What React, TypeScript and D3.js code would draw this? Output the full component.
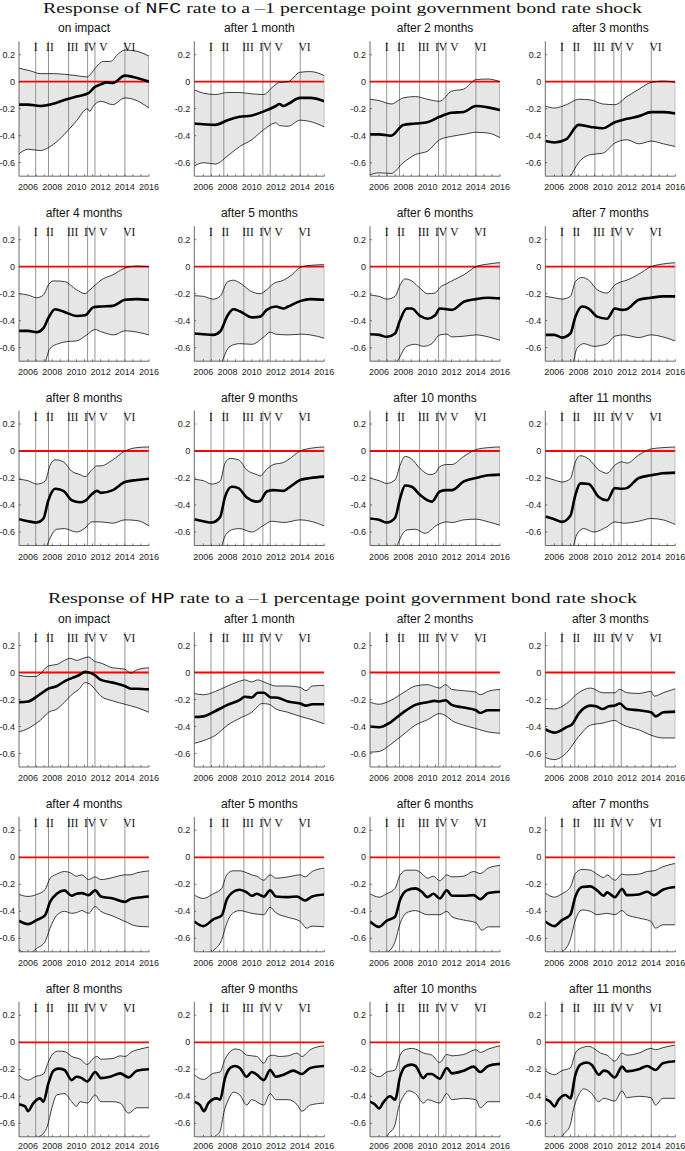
import React from "react";
import * as d3 from "d3";

type Pt = [number, number];

const SECTION_CODES = ["NFC", "HP"];
const PANEL_TITLES = [
  "on impact", "after 1 month", "after 2 months", "after 3 months",
  "after 4 months", "after 5 months", "after 6 months", "after 7 months",
  "after 8 months", "after 9 months", "after 10 months", "after 11 months",
];
const EVENT_YEARS = [2006.63, 2007.69, 2009.35, 2010.92, 2011.53, 2014.01];
const EVENT_LABELS = ["I", "II", "III", "IV", "V", "VI"];
const EVENT_LABEL_YEARS = [2006.63, 2007.81, 2009.69, 2011.12, 2012.22, 2014.37];
const Y_TICKS = [-0.6, -0.4, -0.2, 0, 0.2];
const X_LABELS = [2006, 2008, 2010, 2012, 2014, 2016];

// NFC rate responses: upper band, median, lower band
const nfcHi: Pt[][] = [
  [[2005.25,0.1],[2006.2,0.08],[2007,0.06],[2008,0.06],[2009,0.055],[2010,0.045],[2010.9,0.035],[2011.1,0.05],[2011.7,0.115],[2012.2,0.15],[2012.8,0.15],[2013.5,0.21],[2014.05,0.235],[2015,0.225],[2016,0.19]],
  [[2005.25,-0.06],[2006,-0.085],[2007,-0.095],[2008,-0.08],[2009,-0.08],[2010,-0.09],[2011,-0.095],[2011.66,-0.045],[2012.3,-0.005],[2013,0],[2014,0.07],[2014.84,0.075],[2016,0.045]],
  [[2005.25,-0.13],[2006,-0.14],[2007,-0.165],[2008,-0.12],[2009,-0.11],[2010,-0.13],[2011,-0.145],[2012,-0.07],[2013,-0.055],[2014,0.015],[2015,0.02],[2016,0]],
  [[2005.25,-0.18],[2006,-0.195],[2007,-0.17],[2008,-0.13],[2009,-0.135],[2010,-0.165],[2011,-0.17],[2012,-0.11],[2013,-0.055],[2014,-0.005],[2015,0.005],[2016,-0.005]],
  [[2005.25,-0.2],[2006,-0.21],[2006.71,-0.23],[2007.27,-0.21],[2007.68,-0.135],[2008.1,-0.105],[2009.01,-0.11],[2010,-0.17],[2010.72,-0.2],[2011,-0.18],[2011.69,-0.125],[2012.02,-0.1],[2013.01,-0.06],[2014.01,-0.01],[2015,0.005],[2016,0]],
  [[2005.25,-0.215],[2006,-0.22],[2006.82,-0.24],[2007.38,-0.22],[2008.01,-0.11],[2008.48,-0.1],[2009.01,-0.12],[2010,-0.185],[2010.69,-0.2],[2011.24,-0.17],[2011.8,-0.125],[2012.63,-0.1],[2013.32,-0.06],[2014.01,-0.005],[2014.84,0.01],[2016,0.015]],
  [[2005.25,-0.21],[2006,-0.22],[2006.63,-0.24],[2007.32,-0.22],[2007.74,-0.135],[2008.15,-0.09],[2008.7,-0.105],[2009.39,-0.16],[2010,-0.2],[2010.64,-0.195],[2011.02,-0.155],[2011.6,-0.125],[2012.02,-0.105],[2013.01,-0.06],[2014.01,0],[2015.03,0.02],[2016,0.03]],
  [[2005.25,-0.22],[2006,-0.23],[2006.63,-0.24],[2007.32,-0.22],[2007.74,-0.11],[2008.29,-0.08],[2008.84,-0.1],[2009.53,-0.17],[2010.36,-0.195],[2011,-0.135],[2011.6,-0.11],[2011.99,-0.1],[2012.98,-0.055],[2013.98,0],[2014.97,0.02],[2016,0.03]],
  [[2005.25,-0.21],[2006,-0.22],[2006.71,-0.245],[2007.4,-0.225],[2007.82,-0.105],[2008.23,-0.065],[2008.92,-0.08],[2009.61,-0.15],[2010.3,-0.175],[2010.72,-0.19],[2011.27,-0.14],[2011.69,-0.11],[2012.02,-0.11],[2013.01,-0.065],[2014.01,0],[2015,0.025],[2016,0.03]],
  [[2005.25,-0.21],[2006,-0.22],[2006.69,-0.245],[2007.38,-0.225],[2007.79,-0.09],[2008.21,-0.055],[2008.9,-0.065],[2009.59,-0.14],[2010.42,-0.175],[2010.69,-0.185],[2011.24,-0.135],[2011.8,-0.1],[2012.63,-0.085],[2013.01,-0.065],[2014.01,0],[2014.84,0.02],[2016,0.03]],
  [[2005.25,-0.2],[2006,-0.22],[2006.63,-0.24],[2007.32,-0.215],[2007.74,-0.105],[2008.15,-0.04],[2008.7,-0.06],[2009.39,-0.13],[2010.22,-0.175],[2010.64,-0.165],[2011.02,-0.115],[2011.6,-0.1],[2012.02,-0.1],[2013.01,-0.04],[2014.01,0.01],[2015.03,0.025],[2016,0.03]],
  [[2005.25,-0.195],[2006,-0.215],[2006.63,-0.23],[2007.32,-0.205],[2007.74,-0.08],[2008.15,-0.035],[2008.84,-0.06],[2009.67,-0.14],[2010.36,-0.165],[2011,-0.105],[2011.6,-0.08],[2011.99,-0.09],[2012.98,-0.03],[2013.98,0.015],[2014.97,0.025],[2016,0.03]],
];

const nfcMid: Pt[][] = [
  [[2005.25,-0.17],[2006,-0.17],[2007,-0.18],[2008,-0.165],[2009,-0.135],[2010,-0.11],[2011,-0.085],[2011.5,-0.04],[2012,-0.02],[2012.5,-0.005],[2013,-0.01],[2014,0.045],[2014.7,0.035],[2016,0]],
  [[2005.25,-0.31],[2006,-0.315],[2007,-0.32],[2008,-0.285],[2009,-0.26],[2010,-0.25],[2011,-0.22],[2012,-0.18],[2012.3,-0.165],[2012.6,-0.18],[2013,-0.165],[2014,-0.12],[2014.84,-0.12],[2016,-0.145]],
  [[2005.25,-0.39],[2006,-0.39],[2007,-0.4],[2008,-0.32],[2009,-0.31],[2010,-0.3],[2011,-0.26],[2012,-0.23],[2013,-0.225],[2014,-0.18],[2015,-0.19],[2016,-0.21]],
  [[2005.25,-0.44],[2006,-0.45],[2007,-0.425],[2008,-0.32],[2009,-0.335],[2010,-0.345],[2011,-0.3],[2012,-0.275],[2013,-0.255],[2014,-0.225],[2015,-0.225],[2016,-0.235]],
  [[2005.25,-0.475],[2006,-0.475],[2006.71,-0.485],[2007.27,-0.455],[2007.68,-0.38],[2008.23,-0.315],[2009.01,-0.335],[2010,-0.365],[2010.72,-0.36],[2011.41,-0.3],[2012.02,-0.295],[2013.01,-0.29],[2014.01,-0.245],[2015,-0.24],[2016,-0.245]],
  [[2005.25,-0.495],[2006,-0.5],[2006.82,-0.505],[2007.38,-0.48],[2008.01,-0.36],[2008.48,-0.315],[2009.01,-0.33],[2010,-0.375],[2010.69,-0.37],[2011.24,-0.32],[2011.99,-0.295],[2012.63,-0.31],[2013.01,-0.295],[2014.01,-0.255],[2014.84,-0.24],[2016,-0.245]],
  [[2005.25,-0.5],[2006,-0.505],[2006.63,-0.52],[2007.32,-0.495],[2007.74,-0.395],[2008.29,-0.31],[2008.7,-0.31],[2009.39,-0.365],[2010,-0.385],[2010.64,-0.36],[2011.02,-0.31],[2011.6,-0.315],[2012.02,-0.32],[2013.01,-0.26],[2014.01,-0.24],[2015.03,-0.23],[2016,-0.235]],
  [[2005.25,-0.505],[2006,-0.505],[2006.63,-0.525],[2007.32,-0.495],[2007.74,-0.37],[2008.29,-0.295],[2008.84,-0.31],[2009.53,-0.37],[2010.36,-0.385],[2011,-0.31],[2011.6,-0.32],[2011.99,-0.315],[2012.98,-0.245],[2013.98,-0.23],[2014.97,-0.22],[2016,-0.22]],
  [[2005.25,-0.505],[2006,-0.52],[2006.71,-0.53],[2007.27,-0.5],[2007.68,-0.365],[2008.23,-0.28],[2008.92,-0.295],[2009.61,-0.365],[2010.3,-0.38],[2010.72,-0.37],[2011.27,-0.32],[2011.69,-0.295],[2012.02,-0.31],[2013.01,-0.29],[2014.01,-0.23],[2015,-0.215],[2016,-0.205]],
  [[2005.25,-0.505],[2006,-0.52],[2006.69,-0.53],[2007.38,-0.49],[2007.79,-0.34],[2008.34,-0.265],[2008.9,-0.275],[2009.59,-0.345],[2010.42,-0.375],[2010.69,-0.37],[2011.24,-0.3],[2011.8,-0.29],[2012.63,-0.295],[2013.01,-0.275],[2014.01,-0.215],[2014.84,-0.2],[2016,-0.19]],
  [[2005.25,-0.5],[2006,-0.51],[2006.63,-0.53],[2007.32,-0.495],[2007.74,-0.35],[2008.15,-0.255],[2008.7,-0.265],[2009.39,-0.325],[2010.36,-0.375],[2011.02,-0.3],[2011.6,-0.29],[2012.02,-0.29],[2013.01,-0.225],[2014.01,-0.2],[2015.03,-0.18],[2016,-0.175]],
  [[2005.25,-0.485],[2006,-0.505],[2006.63,-0.525],[2007.32,-0.48],[2007.74,-0.325],[2008.15,-0.24],[2008.84,-0.245],[2009.67,-0.34],[2010.36,-0.365],[2011,-0.275],[2011.6,-0.28],[2011.99,-0.275],[2012.98,-0.2],[2013.98,-0.18],[2014.97,-0.165],[2016,-0.16]],
];

const nfcLo: Pt[][] = [
  [[2005.25,-0.535],[2006,-0.5],[2007,-0.51],[2008,-0.47],[2009,-0.39],[2010,-0.29],[2010.9,-0.2],[2011.1,-0.22],[2011.4,-0.18],[2012,-0.145],[2013,-0.17],[2014,-0.12],[2014.7,-0.13],[2016,-0.195]],
  [[2005.25,-0.625],[2006,-0.6],[2007,-0.61],[2008,-0.55],[2009,-0.48],[2010,-0.43],[2011,-0.355],[2012,-0.305],[2012.3,-0.325],[2013,-0.33],[2014,-0.285],[2014.84,-0.295],[2016,-0.335]],
  [[2005.25,-0.69],[2006,-0.675],[2007,-0.68],[2008,-0.6],[2009,-0.54],[2010,-0.515],[2011,-0.43],[2012,-0.405],[2013,-0.39],[2014,-0.375],[2015,-0.38],[2016,-0.415]],
  [[2005.25,-0.78],[2006,-0.8],[2007,-0.76],[2007.35,-0.7],[2008,-0.6],[2009,-0.54],[2010,-0.53],[2011,-0.455],[2012,-0.43],[2013,-0.46],[2014,-0.44],[2015,-0.46],[2016,-0.48]],
  [[2005.25,-0.95],[2006.8,-0.95],[2007.4,-0.72],[2007.82,-0.605],[2008.51,-0.57],[2009.2,-0.555],[2010,-0.55],[2010.85,-0.505],[2011.55,-0.465],[2012,-0.48],[2013.1,-0.505],[2014,-0.475],[2016,-0.505]],
  [[2005.25,-0.95],[2006.9,-0.95],[2007.52,-0.715],[2008.21,-0.59],[2009.01,-0.57],[2010,-0.575],[2011,-0.52],[2011.52,-0.485],[2011.99,-0.5],[2013.01,-0.505],[2014.01,-0.5],[2014.84,-0.505],[2016,-0.53]],
  [[2005.25,-0.95],[2007,-0.95],[2007.45,-0.72],[2007.74,-0.665],[2008.29,-0.59],[2009.01,-0.575],[2009.67,-0.59],[2010.36,-0.57],[2011.02,-0.505],[2011.6,-0.5],[2012.02,-0.52],[2013.01,-0.515],[2014.01,-0.505],[2015.03,-0.52],[2016,-0.545]],
  [[2005.25,-0.95],[2007.1,-0.95],[2007.55,-0.72],[2007.87,-0.605],[2008.43,-0.57],[2009.26,-0.59],[2010.36,-0.57],[2011,-0.515],[2011.74,-0.505],[2012.98,-0.525],[2013.98,-0.505],[2014.97,-0.52],[2016,-0.55]],
  [[2005.25,-0.95],[2007,-0.95],[2007.5,-0.72],[2007.82,-0.645],[2008.37,-0.58],[2009.01,-0.575],[2010,-0.6],[2010.72,-0.57],[2011.27,-0.525],[2012.02,-0.525],[2013.01,-0.535],[2014.01,-0.51],[2015,-0.515],[2016,-0.555]],
  [[2005.25,-0.95],[2007,-0.95],[2007.48,-0.72],[2007.86,-0.62],[2008.48,-0.58],[2009.01,-0.575],[2010,-0.6],[2011,-0.55],[2011.66,-0.52],[2012.63,-0.53],[2014.01,-0.51],[2014.84,-0.52],[2016,-0.555]],
  [[2005.25,-0.95],[2007,-0.95],[2007.45,-0.72],[2007.74,-0.65],[2008.29,-0.585],[2009.01,-0.58],[2009.81,-0.61],[2010.77,-0.55],[2011.6,-0.525],[2012.02,-0.53],[2013.01,-0.51],[2014.01,-0.505],[2015.03,-0.525],[2016,-0.55]],
  [[2005.25,-0.95],[2007.1,-0.95],[2007.55,-0.72],[2007.87,-0.615],[2008.43,-0.575],[2009.26,-0.6],[2010.36,-0.56],[2011,-0.525],[2011.74,-0.535],[2012.98,-0.52],[2013.98,-0.5],[2014.97,-0.51],[2016,-0.545]],
];

// HP rate responses
const hpHi: Pt[][] = [
  [[2005.25,-0.02],[2006,-0.03],[2006.61,-0.03],[2007,-0.01],[2007.69,0.05],[2008.4,0.06],[2009.01,0.09],[2009.48,0.105],[2010.02,0.09],[2010.55,0.105],[2011.02,0.115],[2011.45,0.085],[2012.02,0.07],[2012.99,0.035],[2013.99,0.025],[2014.5,-0.005],[2015,0.02],[2016,0.035]],
  [[2005.25,-0.155],[2006,-0.165],[2007,-0.14],[2008,-0.1],[2008.98,-0.065],[2009.42,-0.055],[2010,-0.07],[2010.5,-0.055],[2011,-0.07],[2012,-0.1],[2013,-0.1],[2014,-0.11],[2014.49,-0.135],[2015,-0.1],[2016,-0.095]],
  [[2005.25,-0.22],[2006,-0.235],[2007,-0.205],[2008,-0.15],[2009,-0.1],[2010,-0.09],[2011,-0.115],[2011.5,-0.09],[2012,-0.125],[2013,-0.135],[2014,-0.145],[2014.35,-0.165],[2015,-0.14],[2016,-0.125]],
  [[2005.25,-0.265],[2006,-0.27],[2007,-0.23],[2008,-0.15],[2009,-0.115],[2010,-0.15],[2011,-0.15],[2011.4,-0.125],[2012,-0.15],[2013,-0.155],[2014,-0.14],[2014.25,-0.175],[2015,-0.15],[2016,-0.12]],
  [[2005.25,-0.275],[2006,-0.29],[2006.71,-0.275],[2007.4,-0.24],[2007.82,-0.155],[2008.37,-0.125],[2009.01,-0.105],[2009.61,-0.12],[2010,-0.14],[2010.44,-0.13],[2011,-0.165],[2011.55,-0.145],[2012.02,-0.165],[2013.01,-0.15],[2014.01,-0.13],[2014.45,-0.13],[2015,-0.115],[2016,-0.1]],
  [[2005.25,-0.28],[2006,-0.305],[2006.82,-0.27],[2007.52,-0.23],[2007.93,-0.13],[2008.48,-0.1],[2009.01,-0.1],[2009.59,-0.115],[2010,-0.13],[2010.42,-0.14],[2011,-0.17],[2011.52,-0.13],[2011.99,-0.155],[2013.01,-0.145],[2014.01,-0.13],[2014.42,-0.145],[2015,-0.105],[2016,-0.08]],
  [[2005.25,-0.27],[2006,-0.295],[2006.63,-0.27],[2007.32,-0.23],[2007.74,-0.13],[2008.29,-0.095],[2009.01,-0.095],[2009.53,-0.12],[2010,-0.155],[2010.5,-0.14],[2011.02,-0.175],[2011.6,-0.13],[2012.02,-0.145],[2013.01,-0.14],[2013.8,-0.105],[2014.37,-0.12],[2015.03,-0.08],[2016,-0.06]],
  [[2005.25,-0.265],[2006,-0.295],[2006.63,-0.27],[2007.32,-0.22],[2007.74,-0.12],[2008.29,-0.09],[2008.98,-0.095],[2009.53,-0.125],[2010.08,-0.15],[2010.36,-0.13],[2011,-0.17],[2011.6,-0.125],[2011.99,-0.13],[2012.98,-0.125],[2013.68,-0.105],[2014.23,-0.1],[2014.97,-0.07],[2016,-0.045]],
  [[2005.25,-0.245],[2006,-0.28],[2006.58,-0.255],[2007.27,-0.235],[2007.68,-0.145],[2008.1,-0.08],[2008.51,-0.065],[2009.06,-0.07],[2009.61,-0.105],[2010.3,-0.125],[2010.91,-0.165],[2011.27,-0.13],[2011.69,-0.105],[2012.02,-0.125],[2013.01,-0.12],[2013.62,-0.1],[2014.01,-0.105],[2014.59,-0.07],[2015.28,-0.05],[2016,-0.035]],
  [[2005.25,-0.24],[2006,-0.275],[2006.82,-0.23],[2007.38,-0.22],[2007.79,-0.125],[2008.21,-0.07],[2008.62,-0.05],[2009.01,-0.055],[2009.59,-0.095],[2010.42,-0.105],[2011,-0.155],[2011.38,-0.105],[2011.8,-0.095],[2012.21,-0.105],[2013.01,-0.1],[2013.73,-0.08],[2014.15,-0.105],[2014.84,-0.055],[2016,-0.025]],
  [[2005.25,-0.22],[2006,-0.255],[2006.63,-0.22],[2007.32,-0.205],[2007.74,-0.095],[2008.15,-0.055],[2008.7,-0.045],[2009.01,-0.05],[2009.67,-0.08],[2010.36,-0.095],[2011.02,-0.15],[2011.6,-0.09],[2012.02,-0.1],[2013.01,-0.09],[2014.01,-0.055],[2014.37,-0.075],[2015.03,-0.05],[2016,-0.025]],
  [[2005.25,-0.21],[2006,-0.24],[2006.63,-0.21],[2007.32,-0.19],[2007.74,-0.08],[2008.15,-0.045],[2008.84,-0.03],[2009.26,-0.045],[2009.81,-0.08],[2010.36,-0.095],[2011,-0.14],[2011.6,-0.08],[2011.99,-0.095],[2012.98,-0.08],[2013.98,-0.045],[2014.37,-0.055],[2014.97,-0.04],[2016,-0.02]],
];

const hpMid: Pt[][] = [
  [[2005.25,-0.22],[2006,-0.215],[2007,-0.16],[2007.69,-0.12],[2008.4,-0.1],[2009.01,-0.065],[2009.66,-0.04],[2010.2,-0.02],[2010.73,0.005],[2011.02,0],[2011.45,-0.015],[2012.02,-0.055],[2012.99,-0.075],[2013.99,-0.1],[2014.5,-0.12],[2015,-0.12],[2016,-0.125]],
  [[2005.25,-0.33],[2006,-0.325],[2007,-0.285],[2008,-0.24],[2008.98,-0.205],[2009.42,-0.18],[2010,-0.185],[2010.5,-0.15],[2011,-0.15],[2011.59,-0.185],[2012,-0.185],[2013,-0.215],[2014,-0.23],[2014.49,-0.245],[2015,-0.235],[2016,-0.235]],
  [[2005.25,-0.4],[2006,-0.405],[2007,-0.365],[2008,-0.295],[2009,-0.24],[2010,-0.22],[2010.6,-0.21],[2011,-0.215],[2011.5,-0.205],[2012,-0.24],[2013,-0.26],[2014,-0.28],[2014.35,-0.3],[2015,-0.28],[2016,-0.28]],
  [[2005.25,-0.42],[2006,-0.445],[2007,-0.405],[2007.5,-0.38],[2008,-0.305],[2009,-0.245],[2009.45,-0.25],[2010,-0.27],[2010.5,-0.25],[2011,-0.245],[2011.4,-0.23],[2012,-0.27],[2013,-0.28],[2014,-0.295],[2014.4,-0.325],[2015,-0.295],[2016,-0.29]],
  [[2005.25,-0.47],[2006,-0.495],[2006.71,-0.465],[2007.4,-0.43],[2007.82,-0.33],[2008.37,-0.27],[2009.01,-0.245],[2009.61,-0.285],[2010,-0.27],[2010.44,-0.265],[2011,-0.28],[2011.55,-0.245],[2012.02,-0.29],[2013.01,-0.305],[2014.01,-0.33],[2014.45,-0.31],[2015,-0.3],[2016,-0.29]],
  [[2005.25,-0.475],[2006,-0.51],[2006.82,-0.46],[2007.52,-0.43],[2007.93,-0.315],[2008.48,-0.255],[2009.01,-0.24],[2009.59,-0.26],[2010,-0.285],[2010.42,-0.27],[2011,-0.29],[2011.52,-0.245],[2011.99,-0.29],[2013.01,-0.295],[2013.73,-0.29],[2014.42,-0.32],[2015,-0.29],[2016,-0.275]],
  [[2005.25,-0.475],[2006,-0.515],[2006.63,-0.47],[2007.32,-0.44],[2007.74,-0.315],[2008.29,-0.245],[2009.01,-0.23],[2009.53,-0.255],[2010,-0.295],[2010.5,-0.27],[2011.02,-0.305],[2011.6,-0.245],[2012.02,-0.285],[2013.01,-0.285],[2013.8,-0.28],[2014.37,-0.31],[2015.03,-0.265],[2016,-0.255]],
  [[2005.25,-0.475],[2006,-0.51],[2006.63,-0.465],[2007.32,-0.425],[2007.74,-0.29],[2008.29,-0.22],[2008.98,-0.215],[2009.53,-0.245],[2010.08,-0.285],[2010.36,-0.26],[2011,-0.295],[2011.6,-0.235],[2011.99,-0.28],[2012.98,-0.275],[2013.68,-0.255],[2014.23,-0.28],[2014.97,-0.24],[2016,-0.22]],
  [[2005.25,-0.46],[2005.75,-0.475],[2006,-0.51],[2006.44,-0.45],[2006.99,-0.415],[2007.27,-0.44],[2007.68,-0.305],[2008.1,-0.21],[2008.51,-0.195],[2009.01,-0.205],[2009.61,-0.28],[2010,-0.255],[2010.44,-0.265],[2010.91,-0.29],[2011.55,-0.22],[2012.02,-0.265],[2012.79,-0.255],[2013.62,-0.23],[2014.31,-0.26],[2015,-0.21],[2016,-0.2]],
  [[2005.25,-0.44],[2005.72,-0.465],[2006.05,-0.51],[2006.41,-0.45],[2007.1,-0.415],[2007.38,-0.425],[2007.79,-0.265],[2008.21,-0.19],[2008.62,-0.175],[2009.01,-0.19],[2009.59,-0.255],[2010,-0.22],[2010.42,-0.24],[2011,-0.28],[2011.52,-0.205],[2011.99,-0.255],[2012.63,-0.24],[2013.45,-0.21],[2014.15,-0.235],[2014.84,-0.19],[2016,-0.175]],
  [[2005.25,-0.44],[2005.66,-0.46],[2006,-0.49],[2006.35,-0.445],[2006.91,-0.4],[2007.32,-0.425],[2007.74,-0.255],[2008.15,-0.18],[2008.7,-0.165],[2009.01,-0.175],[2009.67,-0.265],[2010,-0.235],[2010.36,-0.235],[2011.02,-0.27],[2011.6,-0.19],[2012.02,-0.23],[2013.01,-0.21],[2013.81,-0.18],[2014.37,-0.22],[2015.03,-0.175],[2016,-0.16]],
  [[2005.25,-0.42],[2005.66,-0.44],[2006,-0.475],[2006.35,-0.425],[2006.91,-0.39],[2007.32,-0.415],[2007.74,-0.24],[2008.15,-0.165],[2008.7,-0.15],[2009.12,-0.17],[2009.67,-0.24],[2010.08,-0.21],[2010.36,-0.215],[2011,-0.26],[2011.6,-0.18],[2011.99,-0.215],[2012.98,-0.2],[2013.68,-0.175],[2014.37,-0.205],[2014.97,-0.155],[2016,-0.14]],
];

const hpLo: Pt[][] = [
  [[2005.25,-0.44],[2006,-0.415],[2006.61,-0.38],[2007,-0.355],[2007.69,-0.295],[2008.4,-0.27],[2009.01,-0.22],[2009.66,-0.16],[2010.2,-0.125],[2010.73,-0.075],[2011.09,-0.085],[2011.45,-0.115],[2012.02,-0.175],[2012.99,-0.21],[2013.99,-0.235],[2015,-0.26],[2016,-0.295]],
  [[2005.25,-0.525],[2006,-0.505],[2007,-0.465],[2008,-0.39],[2008.98,-0.34],[2010,-0.295],[2010.87,-0.23],[2011.41,-0.235],[2012,-0.27],[2013,-0.295],[2014,-0.325],[2015,-0.35],[2016,-0.38]],
  [[2005.25,-0.59],[2006,-0.585],[2007,-0.53],[2008,-0.46],[2009,-0.39],[2010,-0.35],[2011,-0.305],[2011.5,-0.32],[2012,-0.355],[2013,-0.39],[2014,-0.415],[2015,-0.44],[2016,-0.45]],
  [[2005.25,-0.63],[2006,-0.645],[2007,-0.595],[2008,-0.475],[2009,-0.39],[2010,-0.375],[2011,-0.355],[2011.4,-0.375],[2012,-0.4],[2013,-0.425],[2014,-0.465],[2015,-0.485],[2016,-0.485]],
  [[2005.25,-0.685],[2006,-0.715],[2006.71,-0.675],[2007.4,-0.625],[2007.82,-0.525],[2008.37,-0.43],[2009.01,-0.4],[2009.61,-0.415],[2010,-0.41],[2010.44,-0.395],[2011,-0.415],[2011.55,-0.365],[2012.02,-0.4],[2013.01,-0.435],[2014.01,-0.475],[2015,-0.51],[2016,-0.515]],
  [[2005.25,-0.71],[2006,-0.74],[2006.82,-0.69],[2007.52,-0.61],[2007.93,-0.49],[2008.48,-0.41],[2009.01,-0.395],[2010,-0.415],[2011,-0.425],[2011.52,-0.37],[2011.99,-0.41],[2013.01,-0.445],[2014.01,-0.475],[2014.56,-0.525],[2015,-0.51],[2016,-0.515]],
  [[2005.25,-0.735],[2006,-0.74],[2006.63,-0.71],[2007.32,-0.625],[2007.74,-0.49],[2008.29,-0.41],[2009.01,-0.395],[2010,-0.425],[2011.02,-0.425],[2011.6,-0.4],[2012.02,-0.44],[2013.01,-0.465],[2014.01,-0.485],[2014.5,-0.54],[2015.03,-0.515],[2016,-0.515]],
  [[2005.25,-0.735],[2006,-0.735],[2006.63,-0.705],[2007.32,-0.61],[2007.74,-0.465],[2008.29,-0.39],[2008.98,-0.4],[2009.53,-0.425],[2010.36,-0.415],[2011,-0.425],[2011.6,-0.395],[2011.99,-0.425],[2012.98,-0.45],[2013.98,-0.475],[2014.37,-0.525],[2014.97,-0.5],[2016,-0.5]],
  [[2005.25,-0.9],[2006.3,-0.9],[2006.71,-0.715],[2007.27,-0.675],[2007.6,-0.62],[2007.96,-0.49],[2008.37,-0.39],[2009.01,-0.38],[2009.61,-0.44],[2010,-0.475],[2010.3,-0.44],[2010.91,-0.45],[2011.55,-0.39],[2012.02,-0.44],[2013.01,-0.44],[2013.62,-0.45],[2014.31,-0.525],[2015,-0.485],[2016,-0.485]],
  [[2005.25,-0.9],[2006.4,-0.9],[2006.82,-0.715],[2007.38,-0.66],[2007.71,-0.515],[2008.07,-0.425],[2008.48,-0.37],[2009.01,-0.39],[2009.59,-0.465],[2010,-0.425],[2011,-0.465],[2011.52,-0.38],[2011.99,-0.425],[2013.01,-0.425],[2013.73,-0.46],[2014.15,-0.51],[2014.84,-0.465],[2016,-0.45]],
  [[2005.25,-0.9],[2006.2,-0.9],[2006.63,-0.71],[2007.32,-0.61],[2007.6,-0.49],[2008.01,-0.4],[2008.43,-0.36],[2009.01,-0.38],[2009.67,-0.45],[2010,-0.425],[2011.02,-0.45],[2011.6,-0.38],[2012.02,-0.425],[2013.01,-0.415],[2014.01,-0.425],[2014.37,-0.485],[2015.03,-0.44],[2016,-0.44]],
  [[2005.25,-0.9],[2006.2,-0.9],[2006.63,-0.71],[2007.32,-0.61],[2007.6,-0.49],[2008.01,-0.39],[2008.43,-0.345],[2008.98,-0.37],[2009.67,-0.44],[2010.08,-0.415],[2011,-0.435],[2011.6,-0.36],[2011.99,-0.41],[2012.98,-0.4],[2013.98,-0.41],[2014.37,-0.465],[2014.97,-0.415],[2016,-0.415]],
];

const W = 685;
const H = 1151;
const COL_LEFT = [19, 194.3, 370, 545.3];
const ROW_ZERO = [81.7, 266.7, 451, 672.5, 857.3, 1042.3];
const PW = 130;
const SANS = "'Liberation Sans', Arial, Helvetica, sans-serif";
const SERIF = "'Liberation Serif', 'Times New Roman', serif";
const MONO = "'Liberation Mono', 'DejaVu Sans Mono', monospace";

interface PanelProps {
  id: string;
  left: number;
  zero: number;
  labelGap: number;
  title: string;
  lo: Pt[];
  mid: Pt[];
  hi: Pt[];
}

const Panel: React.FC<PanelProps> = ({ id, left, zero, labelGap, title, lo, mid, hi }) => {
  const x = d3.scaleLinear().domain([2005.25, 2016]).range([left, left + PW]);
  const y = d3.scaleLinear().domain([-0.7, 0.3]).range([zero + 94.5, zero - 40.5]);
  const top = y(0.3);
  const bottom = y(-0.7);

  const line = d3
    .line<Pt>()
    .x((d) => x(d[0]))
    .y((d) => y(d[1]))
    .curve(d3.curveMonotoneX);

  const band = line(hi)! + line([...lo].reverse())!.replace(/^M/, "L") + "Z";
  const minorTicks = d3.range(0, 16).map((i) => 2006 + (i * 2) / 3);
  const last = (s: Pt[]) => s[s.length - 1][1];

  return (
    <g>
      <defs>
        <clipPath id={id}>
          <rect x={left} y={top} width={PW} height={bottom - top} />
        </clipPath>
      </defs>

      <text x={left + PW / 2} y={top - 8.8} textAnchor="middle" fontFamily={SANS} fontSize={12} fill="#111">
        {title}
      </text>

      <g clipPath={`url(#${id})`}>
        <path d={band} fill="#e6e6e6" stroke="none" />
        {EVENT_YEARS.map((e, i) => (
          <line key={i} x1={x(e)} x2={x(e)} y1={top} y2={bottom} stroke="#8a8a8a" strokeWidth={0.9} />
        ))}
        <line x1={x(2005.25)} x2={x(2016)} y1={y(0)} y2={y(0)} stroke="#ff0000" strokeWidth={1.8} />
        <line x1={x(2016)} x2={x(2016)} y1={y(last(lo))} y2={y(last(hi))} stroke="#888" strokeWidth={1} />
        <path d={line(hi)!} fill="none" stroke="#000" strokeWidth={0.75} />
        <path d={line(lo)!} fill="none" stroke="#000" strokeWidth={0.75} />
        <path d={line(mid)!} fill="none" stroke="#000" strokeWidth={2.6} strokeLinejoin="round" />
      </g>

      {EVENT_LABELS.map((l, i) => (
        <text key={l} x={x(EVENT_LABEL_YEARS[i])} y={top + 10} textAnchor="middle" fontFamily={SERIF} fontSize={11.5} fill="#111">
          {l}
        </text>
      ))}

      {/* axes */}
      <line x1={left} x2={left} y1={top} y2={bottom} stroke="#444" strokeWidth={0.8} />
      <line x1={left} x2={left + PW} y1={bottom} y2={bottom} stroke="#444" strokeWidth={0.8} />
      {minorTicks.map((t, i) => (
        <line key={i} x1={x(t)} x2={x(t)} y1={bottom} y2={bottom - 2} stroke="#444" strokeWidth={0.7} />
      ))}
      {Y_TICKS.map((t) => (
        <g key={t}>
          <line x1={left} x2={left + 2} y1={y(t)} y2={y(t)} stroke="#444" strokeWidth={0.7} />
          <text x={left - 4} y={y(t)} dy="0.35em" textAnchor="end" fontFamily={SANS} fontSize={9} fill="#222">
            {t === 0 ? "0" : String(t)}
          </text>
        </g>
      ))}
      {X_LABELS.map((t) => (
        <text key={t} x={x(t)} y={bottom + labelGap} textAnchor="middle" fontFamily={SANS} fontSize={9} fill="#222">
          {t}
        </text>
      ))}
    </g>
  );
};

const App: React.FC = () => {
  const series = [
    { lo: nfcLo, mid: nfcMid, hi: nfcHi },
    { lo: hpLo, mid: hpMid, hi: hpHi },
  ];
  const titleY = [13, 602.5];
  const titleLen = [599, 589];

  return (
    <svg width={W} height={H} style={{ position: "absolute", left: 0, top: 0, background: "#fff" }}>
      <rect width={W} height={H} fill="#fff" />
      {SECTION_CODES.map((code, s) => (
        <g key={code}>
          <text
            x={W / 2}
            y={titleY[s]}
            textAnchor="middle"
            fontFamily={SERIF}
            fontSize={14.5}
            textLength={titleLen[s]}
            lengthAdjust="spacingAndGlyphs"
            fill="#111"
          >
            Response of <tspan fontFamily={MONO}>{code}</tspan> rate to a –1 percentage point government bond rate shock
          </text>
          {PANEL_TITLES.map((t, i) => {
            const row = s * 3 + Math.floor(i / 4);
            return (
              <Panel
                key={t}
                id={`clip-${s}-${i}`}
                left={COL_LEFT[i % 4]}
                zero={ROW_ZERO[row]}
                labelGap={row === 5 ? 11.8 : 14}
                title={t}
                lo={series[s].lo[i]}
                mid={series[s].mid[i]}
                hi={series[s].hi[i]}
              />
            );
          })}
        </g>
      ))}
    </svg>
  );
};

export default App;
